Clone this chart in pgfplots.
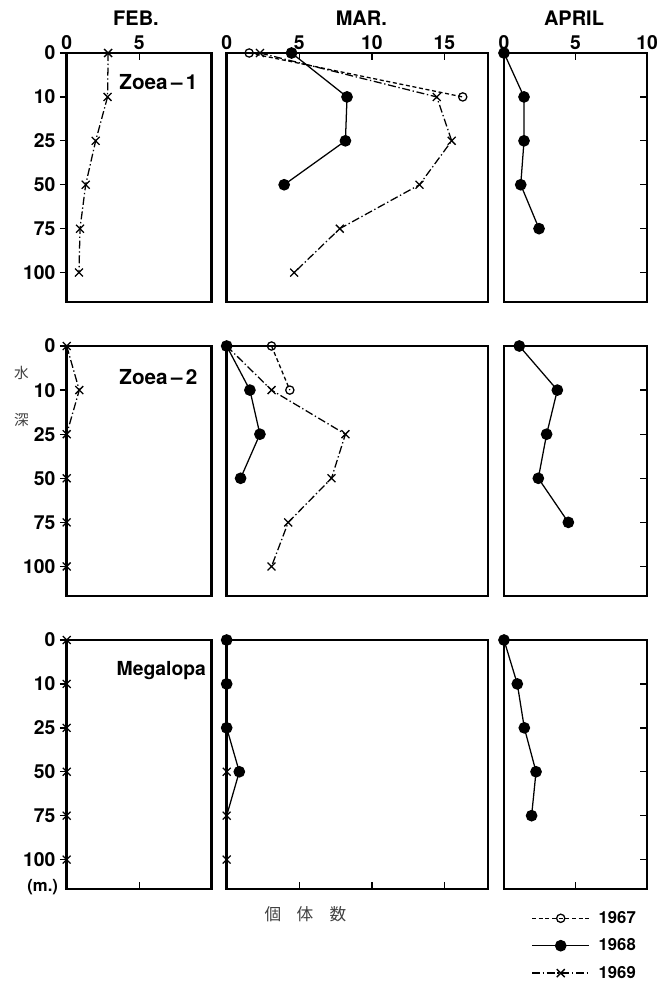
\documentclass[border=0pt]{standalone}
\usepackage{pgfplots}
\pgfplotsset{compat=1.18}
\usepackage{fontspec}
\setmainfont{TeX Gyre Heros}
\newfontfamily\jp{Noto Sans CJK JP}

\pgfplotsset{
  panel/.style={
    scale only axis, anchor=north west,
    y dir=reverse, ymin=0, ymax=5.67,
    clip=false,
    axis line style={line width=1.9pt},
    every tick/.style={black, line width=1pt},
    major tick length=5pt,
    tick align=inside,
    xtick=\empty, ytick=\empty,
    ticklabel style={font=\bfseries\fontsize{14.5}{16}\selectfont},
    /pgf/number format/assume math mode=true,
  },
  feb/.style={panel, xmin=0, xmax=10, width=108.75pt,
    ytick={0,1,2,3,4,5}, yticklabels={0,10,25,50,75,100},
    ytick pos=left, ytick align=outside,
    yticklabel style={anchor=east, xshift=0pt}},
  mar/.style={panel, xmin=0, xmax=18, width=196pt},
  apr/.style={panel, xmin=0, xmax=10, width=107.25pt,
    ytick={1,2,3,4,5}, yticklabels={}, ytick pos=right},
  toprow/.style={xtick pos=right, xticklabel pos=right,
    xticklabel style={yshift=-1pt}},
  botrow/.style={xtick pos=left, xticklabels={}},
  s67/.style={black, line width=0.95pt, dash pattern=on 3pt off 2pt,
    mark=o, mark size=3.1pt, mark options={solid, fill=white}},
  s68/.style={black, line width=0.95pt, solid, mark=*, mark size=3.9pt},
  s69/.style={black, line width=0.95pt, dash pattern=on 6pt off 2pt on 1pt off 2pt,
    mark=x, mark size=4.2pt, mark options={solid}},
}

\begin{document}
\begin{tikzpicture}
\path[use as bounding box] (0,0) rectangle (492.75pt,-738pt);

% ---------------- Row 1: Zoea-1 ----------------
\begin{axis}[feb, toprow, at={(50pt,-39.75pt)}, height=186.75pt, xtick={0,5}]
  \addplot[s69] coordinates {(2.86,0)(2.82,1)(2.0,2)(1.31,3)(0.92,4)(0.85,5)};
\end{axis}
\begin{axis}[mar, toprow, at={(170pt,-39.75pt)}, height=186.75pt, xtick={0,5,10,15}]
  \addplot[s67] coordinates {(1.55,0)(16.26,1)};
  \addplot[s68] coordinates {(4.47,0)(8.29,1)(8.18,2)(3.96,3)};
  \addplot[s69] coordinates {(2.29,0)(14.47,1)(15.5,2)(13.28,3)(7.79,4)(4.65,5)};
\end{axis}
\begin{axis}[apr, toprow, at={(378pt,-39.75pt)}, height=186.75pt, xtick={0,5,10}]
  \addplot[s68] coordinates {(0,0)(1.4,1)(1.4,2)(1.17,3)(2.45,4)};
\end{axis}

% ---------------- Row 2: Zoea-2 ----------------
\begin{axis}[feb, at={(50pt,-259.5pt)}, height=187.5pt]
  \addplot[s69] coordinates {(0,0)(0.87,1)(0,2)(0,3)(0,4)(0,5)};
\end{axis}
\begin{axis}[mar, at={(170pt,-259.5pt)}, height=187.5pt]
  \addplot[s67] coordinates {(3.09,0)(4.35,1)};
  \addplot[s68] coordinates {(0,0)(1.6,1)(2.29,2)(0.96,3)};
  \addplot[s69] coordinates {(0,0)(3.09,1)(8.18,2)(7.22,3)(4.24,4)(3.09,5)};
\end{axis}
\begin{axis}[apr, at={(378pt,-259.5pt)}, height=187.5pt]
  \addplot[s68] coordinates {(1.07,0)(3.73,1)(2.98,2)(2.4,3)(4.5,4)};
\end{axis}

% ---------------- Row 3: Megalopa ----------------
\begin{axis}[feb, botrow, at={(50pt,-480pt)}, height=186.75pt, xtick={5}]
  \addplot[s69] coordinates {(0,0)(0,1)(0,2)(0,3)(0,4)(0,5)};
\end{axis}
\begin{axis}[mar, botrow, at={(170pt,-480pt)}, height=186.75pt, xtick={5,10,15}]
  \addplot[s68, mark indices={1,2,3,4}] coordinates {(0,0)(0,1)(0,2)(0.87,3)(0,4)};
  \addplot[s69] coordinates {(0,0)(0,1)(0,2)(0,3)(0,4)(0,5)};
\end{axis}
\begin{axis}[apr, botrow, at={(378pt,-480pt)}, height=186.75pt, xtick={5},
  legend style={at={(axis description cs:0.19,-0.083)}, anchor=north west,
    draw=none, fill=none, inner sep=0pt,
    font=\bfseries\fontsize{12.5}{14}\selectfont,
    row sep=8pt, nodes={inner sep=1pt}},
  legend cell align=left,
  legend image code/.code={\draw[mark repeat=2, mark phase=2, #1]
    plot coordinates {(0pt,0pt) (21.5pt,0pt) (43pt,0pt)} node[right=3.5pt]{};}]
  \addlegendimage{s67}
  \addlegendentry{1967}
  \addplot[s68] coordinates {(0,0)(0.93,1)(1.42,2)(2.24,3)(1.93,4)};
  \addlegendentry{1968}
  \addlegendimage{s69}
  \addlegendentry{1969}
\end{axis}

% ---------------- Texts ----------------
\node[font=\bfseries\fontsize{15}{17}\selectfont] at (102pt,-13.5pt) {FEB.};
\node[font=\bfseries\fontsize{15}{17}\selectfont] at (271pt,-13.5pt) {MAR.};
\node[font=\bfseries\fontsize{15}{17}\selectfont] at (430.5pt,-13.5pt) {APRIL};

\node[anchor=west, font=\bfseries\fontsize{15.5}{17}\selectfont] at (86pt,-61.5pt) {Zoea\,\textendash\,1};
\node[anchor=west, font=\bfseries\fontsize{15.5}{17}\selectfont] at (86pt,-282.75pt) {Zoea\,\textendash\,2};
\node[anchor=west, font=\bfseries\fontsize{14.5}{17}\selectfont] at (84pt,-503.25pt) {Megalopa};

\node[anchor=east, font=\bfseries\fontsize{12.5}{14}\selectfont] at (47pt,-665pt) {(m.)};

\node[font=\jp\fontsize{11}{12}\selectfont, text=black!75] at (16pt,-279.75pt) {水};
\node[font=\jp\fontsize{11}{12}\selectfont, text=black!75] at (16pt,-315pt) {深};

\node[font=\jp\fontsize{12.5}{14}\selectfont, text=black!75] at (204.75pt,-685.5pt) {個};
\node[font=\jp\fontsize{12.5}{14}\selectfont, text=black!75] at (228.75pt,-685.5pt) {体};
\node[font=\jp\fontsize{12.5}{14}\selectfont, text=black!75] at (253.5pt,-685.5pt) {数};
\end{tikzpicture}
\end{document}
